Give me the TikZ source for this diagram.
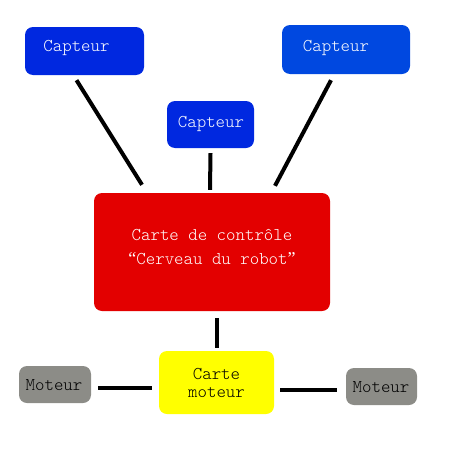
\documentclass[tikz,border=0pt]{standalone}
\usepackage{fontspec}
\setmainfont{lmmonolt10-regular.otf}
\newfontfamily\qfont{Liberation Serif}
\definecolor{bluA}{HTML}{0028E0}
\definecolor{bluB}{HTML}{0048E0}
\definecolor{redC}{HTML}{E30000}
\definecolor{yelC}{HTML}{FFFF00}
\definecolor{grayC}{HTML}{8C8C87}
\tikzset{
  box/.style={rounded corners=8pt, inner sep=0pt, draw=none},
  lbl/.style={inner sep=0pt, font=\fontsize{18}{24}\selectfont, align=center},
  wire/.style={line width=4pt}
}
\begin{document}
\begin{tikzpicture}[x=1pt,y=-1pt]
\useasboundingbox (0,0) rectangle (450,450);
\node[box, fill=bluA, minimum width=119pt, minimum height=48pt] (capL) at (84.5,51) {};
\node[box, fill=bluB, minimum width=128pt, minimum height=49pt] (capR) at (346,49.5) {};
\node[box, fill=bluA, minimum width=87pt, minimum height=47pt] (capM) at (210.5,124.5) {};
\node[box, fill=redC, minimum width=236pt, minimum height=118pt] (ctrl) at (212,252) {};
\node[box, fill=yelC, minimum width=115pt, minimum height=63pt] (cm) at (216.5,382.5) {};
\node[box, fill=grayC, minimum width=72pt, minimum height=37pt] (motL) at (55,384.5) {};
\node[box, fill=grayC, minimum width=71pt, minimum height=37pt] (motR) at (381.5,386.5) {};
\node[lbl, text=white] (tL) at (76.5,48) {Capteur};
\node[lbl, text=white] (tR) at (336,48) {Capteur};
\node[lbl, text=white] (tM) at (211,124) {Capteur};
\node[lbl, text=white] (tC) at (212,247) {Carte de contrôle\\{\qfont “}Cerveau du robot{\qfont ”}};
\node[inner sep=0pt, font=\fontsize{18}{18}\selectfont, align=center] (tY) at (216.5,383) {Carte\\moteur};
\node[lbl] (tML) at (54,385) {Moteur};
\node[lbl] (tMR) at (381,387) {Moteur};
\draw[wire] ([shift={(-8,5)}]capL.south) -- ([shift={(-70,-8)}]ctrl.north);
\draw[wire] ([shift={(0,5)}]capM.south) -- ([shift={(-2,-3)}]ctrl.north);
\draw[wire] ([shift={(-15,6)}]capR.south) -- ([shift={(63,-7)}]ctrl.north);
\draw[wire] ([shift={(5,7)}]ctrl.south) -- ([shift={(0.5,-3)}]cm.north);
\draw[wire] ([shift={(7,3.5)}]motL.east) -- ([shift={(-7,5.5)}]cm.west);
\draw[wire] ([shift={(6,7.5)}]cm.east) -- ([shift={(-9,3.5)}]motR.west);
\end{tikzpicture}
\end{document}
